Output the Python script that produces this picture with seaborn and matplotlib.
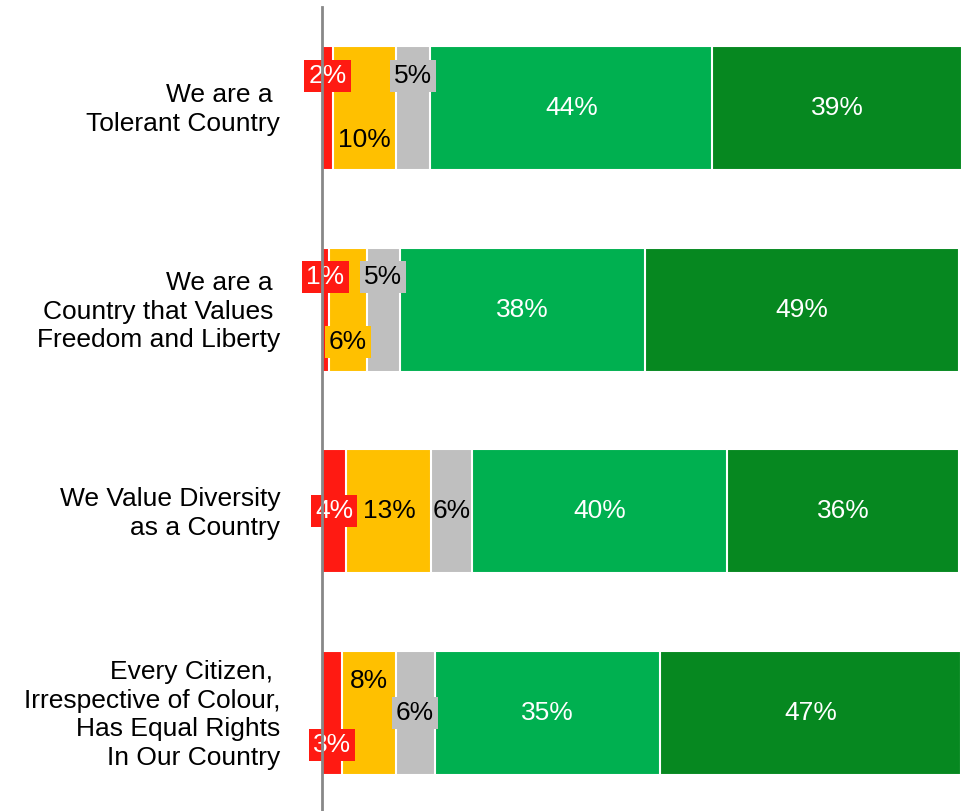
import matplotlib

matplotlib.use("Agg")
import matplotlib.pyplot as plt
import matplotlib.transforms as mtransforms
import numpy as np
import seaborn as sns
from matplotlib import font_manager

categories = [
    "We are a \nTolerant Country",
    "We are a \nCountry that Values \nFreedom and Liberty",
    "We Value Diversity\nas a Country",
    "Every Citizen, \nIrrespective of Colour,\nHas Equal Rights\nIn Our Country",
]
strongly_disagree = [1.7, 1.1, 3.8, 3.1]
disagree = [9.8, 5.9, 13.3, 8.4]
neutral = [5.4, 5.2, 6.4, 6.1]
agree = [44.1, 38.3, 39.8, 35.2]
strongly_agree = [39.0, 49.0, 36.2, 47.0]

series = [strongly_disagree, disagree, neutral, agree, strongly_agree]
colors = ["#FF1A12", "#FFC000", "#BFBFBF", "#00B050", "#068820"]
text_colors = ["white", "black", "black", "white", "white"]

# vertical nudge (-1 up, +1 down) and boxed flag for the small segment labels
label_shift = [
    [-1, 1, -1, 0, 0],
    [-1, 1, -1, 0, 0],
    [0, 0, 0, 0, 0],
    [1, -1, 0, 0, 0],
]
label_boxed = [
    [1, 0, 1, 0, 0],
    [1, 1, 1, 0, 0],
    [1, 0, 0, 0, 0],
    [1, 0, 1, 0, 0],
]

sns.set_style("white")
plt.rcParams["font.family"] = ["Liberation Sans", "DejaVu Sans"]
plt.rcParams["text.color"] = "black"

# pin the regular Liberation Sans file (name lookup can land on the Narrow cut)
font_path = None
for f in font_manager.findSystemFonts():
    if f.endswith("LiberationSans-Regular.ttf"):
        font_path = f
        break


def fprop(size):
    if font_path:
        return font_manager.FontProperties(fname=font_path, size=size)
    return font_manager.FontProperties(family="Liberation Sans", size=size)


fig = plt.figure(figsize=(9.67, 8.11), dpi=100)
ax = fig.add_axes([322 / 967, -3 / 811, 640 / 967, 807 / 811])

values = np.array(series)
cum = np.cumsum(values, axis=0)

# draw cumulative totals from the longest down so each layer shows its own segment
for k in range(len(series) - 1, -1, -1):
    sns.barplot(
        x=cum[k],
        y=categories,
        orient="h",
        color=colors[k],
        width=0.615,
        edgecolor="white",
        linewidth=1.5,
        saturation=1,
        ax=ax,
    )

for i in range(len(categories)):
    left = 0.0
    for k in range(len(series)):
        v = values[k, i]
        xc = left + v / 2
        yc = i + 0.16 * label_shift[i][k]
        bbox = None
        if label_boxed[i][k]:
            bbox = dict(boxstyle="square,pad=0.15", facecolor=colors[k], edgecolor="none")
        ax.text(
            xc, yc, "{0:.0f}%".format(v),
            ha="center", va="center", fontproperties=fprop(19),
            color=text_colors[k], bbox=bbox, zorder=5,
        )
        left += v

ax.set_xlim(0, 100)
ax.set_ylim(3.5, -0.5)
ax.set_xlabel("")
ax.set_ylabel("")
ax.set_xticks([])
for side in ["top", "right", "bottom"]:
    ax.spines[side].set_visible(False)
ax.spines["left"].set_color("#888888")
ax.spines["left"].set_linewidth(2)
ax.spines["left"].set_zorder(6)
ax.tick_params(axis="y", length=0, pad=30)
lift = mtransforms.ScaledTranslation(0, 3 / 100, fig.dpi_scale_trans)
for lab in ax.get_yticklabels():
    lab.set_fontproperties(fprop(19))
    lab.set_color("black")
    lab.set_horizontalalignment("right")
    lab.set_linespacing(1.25)
    lab.set_transform(lab.get_transform() + lift)

fig.savefig("out.png", dpi=100)
